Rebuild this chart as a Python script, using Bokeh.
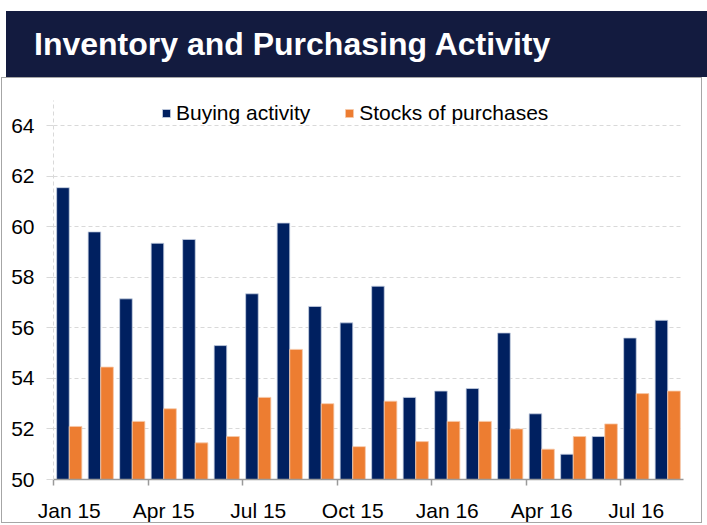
import numpy as np
from bokeh.plotting import figure
from bokeh.layouts import column
from bokeh.models import (Range1d, FixedTicker, Legend, LegendItem,
                          ColumnDataSource, Div)
from bokeh.embed import file_html
from bokeh.resources import INLINE

# ---- data ----
months = ["Jan 15", "Feb 15", "Mar 15", "Apr 15", "May 15", "Jun 15", "Jul 15",
          "Aug 15", "Sep 15", "Oct 15", "Nov 15", "Dec 15", "Jan 16", "Feb 16",
          "Mar 16", "Apr 16", "May 16", "Jun 16", "Jul 16", "Aug 16"]
buying = [61.55, 59.8, 57.15, 59.35, 59.5, 55.3, 57.35, 60.15, 56.85, 56.2,
          57.65, 53.25, 53.5, 53.6, 55.8, 52.6, 51.0, 51.7, 55.6, 56.3]
stocks = [52.1, 54.45, 52.3, 52.8, 51.45, 51.7, 53.25, 55.15, 53.0, 51.3,
          53.1, 51.5, 52.3, 52.3, 52.0, 51.2, 51.7, 52.2, 53.4, 53.5]
y_ticks = [50, 52, 54, 56, 58, 60, 62, 64]
title_text = "Inventory and Purchasing Activity"

NAVY = "#002060"
ORANGE = "#ED7D31"
TITLE_BG = "#131B3F"
FONT = "Liberation Sans"

# ---- title bar ----
t = Div(text=('<div style="font-family:\'Liberation Sans\',Arial,sans-serif;'
              'font-size:32px;font-weight:bold;color:white;line-height:66px;'
              'padding-left:28px;white-space:nowrap;">' + title_text + '</div>'),
        width=701, height=66, margin=(11, 0, 0, 6),
        styles={"background-color": TITLE_BG})

# ---- chart ----
idx = np.arange(len(months))
src = ColumnDataSource(dict(
    xb=idx + 0.5 - 0.2, xs=idx + 0.5 + 0.2,
    buying=buying, stocks=stocks, month=months))

p = figure(width=701, height=446, output_backend="svg", toolbar_location=None,
           x_range=Range1d(0, len(months)), y_range=Range1d(50, 65),
           min_border_left=51, min_border_right=20, min_border_top=22,
           min_border_bottom=41, margin=(0, 0, 0, 1),
           styles={"border": "1px solid #a6a6a6"})
p.outline_line_color = None
p.background_fill_color = "white"
p.border_fill_color = "white"

r1 = p.vbar(x="xb", top="buying", bottom=50, width=0.4, source=src,
            fill_color=NAVY, line_color="#c6d0e2", line_width=0.8)
r2 = p.vbar(x="xs", top="stocks", bottom=50, width=0.4, source=src,
            fill_color=ORANGE, line_color="#f6c9a9", line_width=0.8)

# x axis: labels at category centres every 3 months, tick marks at boundaries
label_pos = [i + 0.5 for i in range(0, len(months), 3)]
xt = FixedTicker(ticks=label_pos, minor_ticks=list(range(0, len(months), 3)))
xa = p.xaxis[0]
xa.ticker = xt
xa.major_label_overrides = {i + 0.5: months[i] for i in range(0, len(months), 3)}
xa.major_tick_line_color = None
xa.major_tick_out = 0
xa.major_tick_in = 0
xa.minor_tick_out = 6
xa.minor_tick_in = 0
xa.minor_tick_line_color = "#9a9a9a"
xa.minor_tick_line_width = 1.5
xa.axis_line_color = "#9a9a9a"
xa.axis_line_width = 1.5
xa.major_label_text_font = FONT
xa.major_label_text_font_size = "21px"
xa.major_label_text_color = "black"
xa.major_label_standoff = 13

ya = p.yaxis[0]
ya.ticker = FixedTicker(ticks=y_ticks)
ya.axis_line_color = "#d9d9d9"
ya.axis_line_dash = "4 3"
ya.major_tick_line_color = "#d9d9d9"
ya.major_tick_out = 7
ya.major_tick_in = 0
ya.minor_tick_line_color = None
ya.major_label_text_font = FONT
ya.major_label_text_font_size = "21px"
ya.major_label_text_color = "black"
ya.major_label_standoff = 12

p.xgrid.grid_line_color = None
p.ygrid.ticker = FixedTicker(ticks=y_ticks[1:])
p.ygrid.grid_line_color = "#d9d9d9"
p.ygrid.grid_line_dash = "4 3"

legend = Legend(items=[LegendItem(label="Buying activity", renderers=[r1]),
                       LegendItem(label="Stocks of purchases", renderers=[r2])],
                orientation="horizontal", location=(108, 354),
                padding=0, margin=0, spacing=34, label_standoff=5,
                glyph_width=10, glyph_height=10, label_height=24,
                label_text_font=FONT, label_text_font_size="21px",
                label_text_color="black",
                background_fill_alpha=0, border_line_color=None)
p.add_layout(legend)

layout = column(t, p, spacing=0)
open("out.html", "w").write(file_html(layout, INLINE))
